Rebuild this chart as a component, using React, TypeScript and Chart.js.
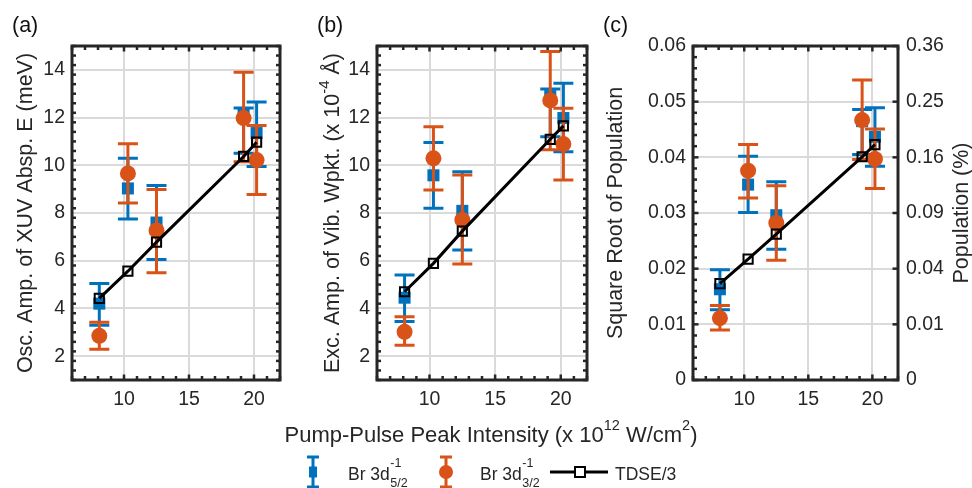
import React, { useEffect, useRef } from 'react';
import { Chart, registerables } from 'chart.js';

Chart.register(...registerables);

// ---------------- data ----------------
const INTENSITY = [8.1, 10.3, 12.5, 19.2, 20.2];
const X_TICKS = [10, 15, 20];
const Y_TICKS_AB = [2, 4, 6, 8, 10, 12, 14];
const Y_LABELS_AB = ['2', '4', '6', '8', '10', '12', '14'];
const Y_TICKS_C = [0, 0.01, 0.02, 0.03, 0.04, 0.05, 0.06];
const Y_LABELS_C = ['0', '0.01', '0.02', '0.03', '0.04', '0.05', '0.06'];
const POP_LABELS_C = ['0', '0.01', '0.04', '0.09', '0.16', '0.25', '0.36'];

// panel (a): oscillation amplitude of XUV absorption energy (meV)
const A_BLUE = [4.2, 9.03, 7.6, 12.15, 11.35];
const A_BLUE_LO = [3.3, 7.75, 6.05, 10.5, 9.95];
const A_BLUE_HI = [5.05, 10.3, 9.15, 12.4, 12.65];
const A_ORANGE = [2.85, 9.66, 7.27, 11.98, 10.22];
const A_ORANGE_LO = [2.29, 8.42, 5.5, 10.15, 8.78];
const A_ORANGE_HI = [3.42, 10.9, 8.98, 13.9, 11.67];
const A_TDSE = [4.42, 5.56, 6.78, 10.37, 10.97];

// panel (b): excitation amplitude of vibrational wavepacket (x 1e-4 Å)
const B_BLUE = [4.45, 9.58, 8.09, 12.9, 11.98];
const B_BLUE_LO = [3.45, 8.2, 6.45, 11.2, 10.57];
const B_BLUE_HI = [5.4, 10.95, 9.73, 13.2, 13.44];
const B_ORANGE = [3.02, 10.29, 7.71, 12.72, 10.89];
const B_ORANGE_LO = [2.46, 8.96, 5.86, 10.65, 9.38];
const B_ORANGE_HI = [3.65, 11.62, 9.59, 14.77, 12.39];
const B_TDSE = [4.7, 5.89, 7.24, 11.09, 11.65];

// panel (c): square root of population
const C_BLUE = [0.0163, 0.0351, 0.0296, 0.0465, 0.0437];
const C_BLUE_LO = [0.0126, 0.0301, 0.0235, 0.0405, 0.0384];
const C_BLUE_HI = [0.0198, 0.0402, 0.0356, 0.0486, 0.0489];
const C_ORANGE = [0.0111, 0.0376, 0.0282, 0.0467, 0.0397];
const C_ORANGE_LO = [0.009, 0.0327, 0.0215, 0.0396, 0.0344];
const C_ORANGE_HI = [0.0134, 0.0423, 0.0349, 0.0539, 0.0451];
const C_TDSE = [0.0173, 0.0217, 0.0262, 0.0401, 0.0423];

// ---------------- styles ----------------
const W = 972;
const H = 488;
const FONT = '"Liberation Sans", Arial, Helvetica, sans-serif';
const TEXT = '#262626';
const GRID = '#dadada';
const BLUE = '#0072BD';
const ORANGE = '#D95319';
const X_AXIS_H = 40;
const TICK_FONT = 19.5;
const TITLE_FONT = 21.5;
const XLABEL_FONT = 22;
const LEGEND_FONT = 17.5;
const SUB_FONT = 12.5;

type Area = { left: number; right: number; top: number; bottom: number };

interface PanelDef {
  label: string;
  labelX: number;
  blue: number[]; blueLo: number[]; blueHi: number[];
  orange: number[]; orangeLo: number[]; orangeHi: number[];
  tdse: number[];
  yMin: number; yMax: number;
  yTicks: number[]; yLabels: string[]; yMinor: number;
  yTitle: string;
  richTitle?: { base: string; sup: string; tail: string; cx: number };
  area: Area;
  yAxisW: number;
  titlePad: number;
  rightLabels?: string[];
  rightTitle?: string;
  rightAxisW?: number;
  common?: boolean;
}

const PANELS: PanelDef[] = [
  {
    label: '(a)', labelX: 12,
    blue: A_BLUE, blueLo: A_BLUE_LO, blueHi: A_BLUE_HI,
    orange: A_ORANGE, orangeLo: A_ORANGE_LO, orangeHi: A_ORANGE_HI,
    tdse: A_TDSE,
    yMin: 1, yMax: 15, yTicks: Y_TICKS_AB, yLabels: Y_LABELS_AB, yMinor: 0.4,
    yTitle: 'Osc. Amp. of XUV Absp. E (meV)',
    area: { left: 72, right: 280, top: 46, bottom: 380 },
    yAxisW: 62, titlePad: 3,
  },
  {
    label: '(b)', labelX: 317,
    blue: B_BLUE, blueLo: B_BLUE_LO, blueHi: B_BLUE_HI,
    orange: B_ORANGE, orangeLo: B_ORANGE_LO, orangeHi: B_ORANGE_HI,
    tdse: B_TDSE,
    yMin: 1, yMax: 15, yTicks: Y_TICKS_AB, yLabels: Y_LABELS_AB, yMinor: 0.4,
    yTitle: '',
    richTitle: { base: 'Exc. Amp. of Vib. Wpkt. (x 10', sup: '-4', tail: ' Å)', cx: 331 },
    area: { left: 377, right: 587, top: 46, bottom: 380 },
    yAxisW: 62, titlePad: 3,
    common: true,
  },
  {
    label: '(c)', labelX: 603,
    blue: C_BLUE, blueLo: C_BLUE_LO, blueHi: C_BLUE_HI,
    orange: C_ORANGE, orangeLo: C_ORANGE_LO, orangeHi: C_ORANGE_HI,
    tdse: C_TDSE,
    yMin: 0, yMax: 0.06, yTicks: Y_TICKS_C, yLabels: Y_LABELS_C, yMinor: 0.002,
    yTitle: 'Square Root of Population',
    area: { left: 693, right: 898, top: 46, bottom: 380 },
    yAxisW: 90, titlePad: 0,
    rightLabels: POP_LABELS_C, rightTitle: 'Population (%)', rightAxisW: 74,
  },
];

const font = (size: number) => `${size}px ${FONT}`;

// ---------------- plugins ----------------
const errorBarPlugin = {
  id: 'errbars',
  beforeDatasetDraw(chart: any, args: any) {
    const ds = chart.data.datasets[args.index];
    if (!ds.errLo) return;
    const meta = args.meta;
    const yScale = chart.scales[meta.yAxisID];
    const ctx = chart.ctx;
    ctx.save();
    ctx.strokeStyle = ds.errColor;
    ctx.lineWidth = 3;
    ctx.lineCap = 'butt';
    meta.data.forEach((pt: any, i: number) => {
      const x = pt.x;
      const yl = yScale.getPixelForValue(ds.errLo[i]);
      const yh = yScale.getPixelForValue(ds.errHi[i]);
      ctx.beginPath();
      ctx.moveTo(x, yl); ctx.lineTo(x, yh);
      ctx.moveTo(x - 10, yl); ctx.lineTo(x + 10, yl);
      ctx.moveTo(x - 10, yh); ctx.lineTo(x + 10, yh);
      ctx.stroke();
    });
    ctx.restore();
  },
};

function isMajor(v: number, majors: number[], step: number) {
  return majors.some((m) => Math.abs(m - v) < step / 10);
}

const boxPlugin = {
  id: 'mbox',
  afterDraw(chart: any, _a: any, opts: any) {
    const { ctx, chartArea } = chart;
    const { left, right, top, bottom } = chartArea;
    const xs = chart.scales.x;
    const ys = chart.scales.y;
    ctx.save();
    ctx.strokeStyle = TEXT;
    ctx.lineWidth = 2.5;
    const seg = (x1: number, y1: number, x2: number, y2: number) => {
      ctx.beginPath(); ctx.moveTo(x1, y1); ctx.lineTo(x2, y2); ctx.stroke();
    };
    const nx = Math.round((xs.max - xs.min) / opts.xMinor);
    for (let i = 0; i <= nx; i++) {
      const v = xs.min + i * opts.xMinor;
      const px = xs.getPixelForValue(v);
      const len = isMajor(v, opts.xMajors, opts.xMinor) ? 5.5 : 4;
      seg(px, bottom, px, bottom - len);
      seg(px, top, px, top + len);
    }
    const ny = Math.round((ys.max - ys.min) / opts.yMinor);
    for (let i = 0; i <= ny; i++) {
      const v = ys.min + i * opts.yMinor;
      const py = ys.getPixelForValue(v);
      const major = isMajor(v, opts.yMajors, opts.yMinor);
      const len = major ? 5.5 : 4;
      seg(left, py, left + len, py);
      if (major || opts.rightMinor) seg(right, py, right - len, py);
    }
    ctx.lineWidth = 3;
    ctx.strokeRect(left, top, right - left, bottom - top);
    ctx.restore();
  },
};

type Piece = { text: string; size: number; dy: number; w?: number };

function drawPieces(ctx: CanvasRenderingContext2D, pieces: Piece[], x0: number, baseline: number, center: boolean) {
  let total = 0;
  pieces.forEach((p) => {
    ctx.font = font(p.size);
    p.w = ctx.measureText(p.text).width;
    total += p.w;
  });
  let x = center ? x0 - total / 2 : x0;
  pieces.forEach((p) => {
    ctx.font = font(p.size);
    ctx.fillText(p.text, x, baseline + p.dy);
    x += p.w || 0;
  });
}

function drawLegendLabel(ctx: CanvasRenderingContext2D, x: number, baseline: number, sub: string) {
  ctx.font = font(LEGEND_FONT);
  ctx.textAlign = 'left';
  ctx.textBaseline = 'alphabetic';
  ctx.fillText('Br 3d', x, baseline);
  const w = ctx.measureText('Br 3d').width;
  ctx.font = font(SUB_FONT);
  ctx.fillText('-1', x + w + 0.5, baseline - 12.5);
  ctx.fillText(sub, x + w + 0.5, baseline + 7);
}

const textPlugin = {
  id: 'mtext',
  afterDraw(chart: any, _a: any, opts: any) {
    const { ctx, chartArea } = chart;
    const cy = (chartArea.top + chartArea.bottom) / 2;
    ctx.save();
    ctx.fillStyle = '#111111';
    ctx.textAlign = 'left';
    ctx.textBaseline = 'alphabetic';
    ctx.font = font(TITLE_FONT);
    ctx.fillText(opts.label, opts.labelX, 32);

    if (opts.richTitle) {
      const rt = opts.richTitle;
      ctx.save();
      ctx.fillStyle = TEXT;
      ctx.translate(rt.cx, cy);
      ctx.rotate(-Math.PI / 2);
      ctx.textAlign = 'left';
      ctx.textBaseline = 'alphabetic';
      drawPieces(ctx, [
        { text: rt.base, size: TITLE_FONT, dy: 0 },
        { text: rt.sup, size: 15, dy: -10 },
        { text: rt.tail, size: TITLE_FONT, dy: 0 },
      ], 0, 7.5, true);
      ctx.restore();
    }

    if (opts.rightTitle) {
      ctx.save();
      ctx.fillStyle = TEXT;
      ctx.translate(962, cy);
      ctx.rotate(-Math.PI / 2);
      ctx.textAlign = 'center';
      ctx.textBaseline = 'middle';
      ctx.font = font(TITLE_FONT);
      ctx.fillText(opts.rightTitle, 0, 0);
      ctx.restore();
    }

    if (opts.common) {
      ctx.fillStyle = TEXT;
      ctx.textAlign = 'left';
      ctx.textBaseline = 'alphabetic';
      drawPieces(ctx, [
        { text: 'Pump-Pulse Peak Intensity (x 10', size: XLABEL_FONT, dy: 0 },
        { text: '12', size: 14.5, dy: -12 },
        { text: ' W/cm', size: XLABEL_FONT, dy: 0 },
        { text: '2', size: 14.5, dy: -12 },
        { text: ')', size: XLABEL_FONT, dy: 0 },
      ], 491, 441.5, true);

      // legend symbols
      const ly = 472;
      ctx.strokeStyle = BLUE; ctx.lineWidth = 3;
      ctx.beginPath();
      ctx.moveTo(313, ly - 15); ctx.lineTo(313, ly + 15);
      ctx.moveTo(307, ly - 15); ctx.lineTo(319, ly - 15);
      ctx.moveTo(307, ly + 15); ctx.lineTo(319, ly + 15);
      ctx.stroke();
      ctx.fillStyle = BLUE;
      ctx.fillRect(309, ly - 5.5, 8, 11);
      ctx.strokeStyle = ORANGE;
      ctx.beginPath();
      ctx.moveTo(446, ly - 15); ctx.lineTo(446, ly + 15);
      ctx.moveTo(440, ly - 15); ctx.lineTo(452, ly - 15);
      ctx.moveTo(440, ly + 15); ctx.lineTo(452, ly + 15);
      ctx.stroke();
      ctx.fillStyle = ORANGE;
      ctx.beginPath(); ctx.arc(446, ly, 7, 0, Math.PI * 2); ctx.fill();
      ctx.strokeStyle = '#000'; ctx.lineWidth = 3;
      ctx.beginPath(); ctx.moveTo(550, ly); ctx.lineTo(608, ly); ctx.stroke();
      ctx.fillStyle = '#fff';
      ctx.fillRect(575, ly - 5, 10, 10);
      ctx.lineWidth = 2;
      ctx.strokeRect(575, ly - 5, 10, 10);

      ctx.fillStyle = TEXT;
      drawLegendLabel(ctx, 348, 479.5, '5/2');
      drawLegendLabel(ctx, 480, 479.5, '3/2');
      ctx.font = font(LEGEND_FONT);
      ctx.fillText('TDSE/3', 615, 479.5);
    }
    ctx.restore();
  },
};

// ---------------- config ----------------
function buildConfig(p: PanelDef): any {
  const pts = (ys: number[]) => INTENSITY.map((x, i) => ({ x, y: ys[i] }));
  const tickFont = { family: FONT, size: TICK_FONT };
  const scales: any = {
    x: {
      type: 'linear', min: 6, max: 22, position: 'bottom',
      afterBuildTicks: (s: any) => { s.ticks = X_TICKS.map((v) => ({ value: v })); },
      afterFit: (s: any) => { s.height = X_AXIS_H; },
      grid: { color: GRID, lineWidth: 2, drawTicks: false },
      border: { display: false },
      ticks: { font: tickFont, color: TEXT, padding: 8, maxRotation: 0, autoSkip: false,
        callback: (_v: any, i: number) => String(X_TICKS[i]) },
    },
    y: {
      type: 'linear', min: p.yMin, max: p.yMax, position: 'left',
      afterBuildTicks: (s: any) => { s.ticks = p.yTicks.map((v) => ({ value: v })); },
      afterFit: (s: any) => { s.width = p.yAxisW; },
      grid: { color: GRID, lineWidth: 2, drawTicks: false },
      border: { display: false },
      ticks: { font: tickFont, color: TEXT, padding: 7, autoSkip: false,
        callback: (_v: any, i: number) => p.yLabels[i] },
      title: { display: !!p.yTitle, text: p.yTitle, color: TEXT,
        font: { family: FONT, size: TITLE_FONT }, padding: { top: p.titlePad, bottom: 0 } },
    },
  };
  if (p.rightLabels) {
    scales.y2 = {
      type: 'linear', min: p.yMin, max: p.yMax, position: 'right',
      afterBuildTicks: (s: any) => { s.ticks = p.yTicks.map((v) => ({ value: v })); },
      afterFit: (s: any) => { s.width = p.rightAxisW; },
      grid: { display: false, drawTicks: false },
      border: { display: false },
      ticks: { font: tickFont, color: TEXT, padding: 8, autoSkip: false,
        callback: (_v: any, i: number) => (p.rightLabels as string[])[i] },
    };
  }
  const rightW = p.rightAxisW || 0;
  return {
    type: 'scatter',
    data: {
      datasets: [
        {
          label: 'Br 3d-1 5/2', data: pts(p.blue), errLo: p.blueLo, errHi: p.blueHi, errColor: BLUE,
          pointStyle: 'rect', pointRadius: 8.5, pointHoverRadius: 8.5,
          pointBackgroundColor: BLUE, pointBorderWidth: 0, borderColor: BLUE,
          showLine: false, order: 3,
        },
        {
          label: 'Br 3d-1 3/2', data: pts(p.orange), errLo: p.orangeLo, errHi: p.orangeHi, errColor: ORANGE,
          pointStyle: 'circle', pointRadius: 8, pointHoverRadius: 8,
          pointBackgroundColor: ORANGE, pointBorderWidth: 0, borderColor: ORANGE,
          showLine: false, order: 2,
        },
        {
          label: 'TDSE/3', data: pts(p.tdse), showLine: true,
          borderColor: '#000', borderWidth: 3,
          pointStyle: 'rect', pointRadius: 6.5, pointHoverRadius: 6.5,
          pointBorderWidth: 2, pointBorderColor: '#000', pointBackgroundColor: 'rgba(0,0,0,0)',
          order: 1,
        },
      ],
    },
    options: {
      responsive: false,
      animation: false,
      events: [],
      layout: {
        autoPadding: false,
        padding: {
          left: p.area.left - p.yAxisW,
          top: p.area.top,
          right: W - p.area.right - rightW,
          bottom: H - p.area.bottom - X_AXIS_H,
        },
      },
      scales,
      plugins: {
        legend: { display: false },
        tooltip: { enabled: false },
        mbox: { xMinor: 1, xMajors: X_TICKS, yMinor: p.yMinor, yMajors: p.yTicks, rightMinor: !p.rightLabels },
        mtext: { label: p.label, labelX: p.labelX, rightTitle: p.rightTitle, richTitle: p.richTitle, common: !!p.common },
      },
    },
    plugins: [errorBarPlugin, boxPlugin, textPlugin],
  };
}

export default function App() {
  const refs = [useRef<HTMLCanvasElement>(null), useRef<HTMLCanvasElement>(null), useRef<HTMLCanvasElement>(null)];
  useEffect(() => {
    const charts = PANELS.map((p, i) => new Chart(refs[i].current as HTMLCanvasElement, buildConfig(p)));
    return () => charts.forEach((c) => c.destroy());
  }, []);
  return (
    <div style={{ position: 'absolute', left: 0, top: 0, width: W, height: H, background: '#fff' }}>
      {refs.map((r, i) => (
        <canvas key={i} ref={r} width={W} height={H}
          style={{ position: 'absolute', left: 0, top: 0, width: W, height: H }} />
      ))}
    </div>
  );
}
